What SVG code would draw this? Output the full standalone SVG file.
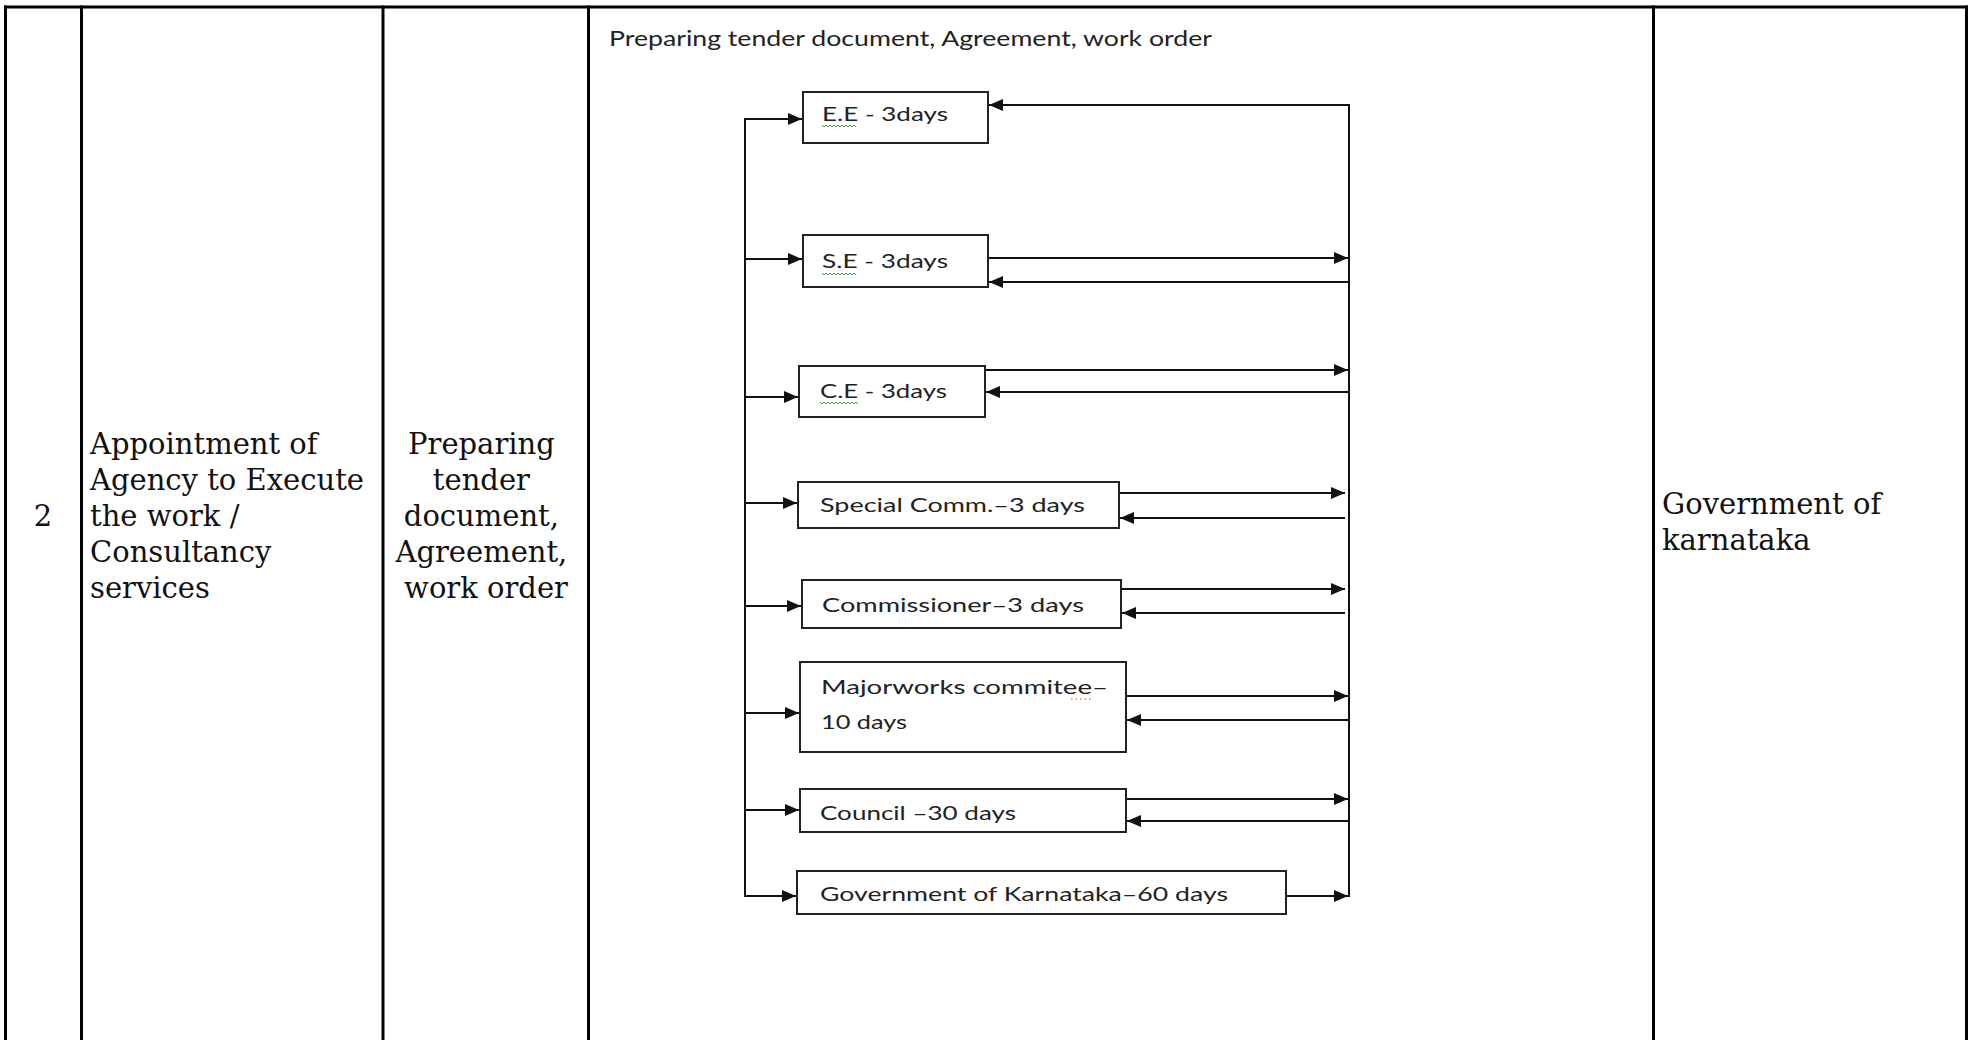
<svg xmlns="http://www.w3.org/2000/svg" width="1970" height="1040" viewBox="0 0 1970 1040">
<style>
.grid{stroke:#000;stroke-width:3;fill:none}
.cell{font-family:"DejaVu Serif","Liberation Serif",serif;font-size:29px;fill:#111}
.box{fill:#fff;stroke:#222;stroke-width:2}
.lbl{font-family:Lato,"Open Sans","Liberation Sans",sans-serif;font-size:20px;fill:#222}
.ttl{font-family:Lato,"Open Sans","Liberation Sans",sans-serif;font-size:21px;fill:#222}
.con{stroke:#111;stroke-width:2;fill:none}
.sq{stroke:#3a9a3a;stroke-width:1;fill:none}
</style>
<defs>
<marker id="ah" markerUnits="userSpaceOnUse" markerWidth="15" markerHeight="12" refX="14" refY="6" orient="auto">
<path d="M0,0 L14,6 L0,12 z" fill="#111"/>
</marker>
</defs>
<rect width="1970" height="1040" fill="#fff"/>
<g id="table">
<line class="grid" x1="4" y1="7" x2="1968" y2="7"/>
<line class="grid" x1="5.5" y1="5.5" x2="5.5" y2="1040"/>
<line class="grid" x1="81.5" y1="5.5" x2="81.5" y2="1040"/>
<line class="grid" x1="383" y1="5.5" x2="383" y2="1040"/>
<line class="grid" x1="588.5" y1="5.5" x2="588.5" y2="1040"/>
<line class="grid" x1="1653.5" y1="5.5" x2="1653.5" y2="1040"/>
<line class="grid" x1="1966.5" y1="5.5" x2="1966.5" y2="1040"/>
<text class="cell" x="43" y="526" text-anchor="middle">2</text>
<text class="cell" x="90">
<tspan x="90" y="454">Appointment of</tspan>
<tspan x="90" y="490">Agency to Execute</tspan>
<tspan x="90" y="526">the work /</tspan>
<tspan x="90" y="562">Consultancy</tspan>
<tspan x="90" y="598">services</tspan>
</text>
<text class="cell" text-anchor="middle">
<tspan x="486" y="454">Preparing</tspan>
<tspan x="486" y="490">tender</tspan>
<tspan x="486" y="526">document,</tspan>
<tspan x="486" y="562">Agreement,</tspan>
<tspan x="486" y="598">work order</tspan>
</text>
<text class="cell">
<tspan x="1662" y="514">Government of</tspan>
<tspan x="1662" y="550">karnataka</tspan>
</text>
</g>
<text class="ttl" x="609" y="46" textLength="603" lengthAdjust="spacingAndGlyphs">Preparing tender document, Agreement, work order</text>
<g id="connectors">
<line class="con" x1="745" y1="119" x2="745" y2="897"/>
<line class="con" x1="1349" y1="104" x2="1349" y2="897"/>
<line class="con" x1="744" y1="119" x2="802" y2="119" marker-end="url(#ah)"/>
<line class="con" x1="745" y1="259" x2="802" y2="259" marker-end="url(#ah)"/>
<line class="con" x1="745" y1="397" x2="798" y2="397" marker-end="url(#ah)"/>
<line class="con" x1="745" y1="503" x2="797" y2="503" marker-end="url(#ah)"/>
<line class="con" x1="745" y1="606" x2="801" y2="606" marker-end="url(#ah)"/>
<line class="con" x1="745" y1="713" x2="799" y2="713" marker-end="url(#ah)"/>
<line class="con" x1="745" y1="810" x2="799" y2="810" marker-end="url(#ah)"/>
<line class="con" x1="744" y1="896" x2="796" y2="896" marker-end="url(#ah)"/>
<line class="con" x1="1350" y1="105" x2="989" y2="105" marker-end="url(#ah)"/>
<line class="con" x1="988" y1="258" x2="1348" y2="258" marker-end="url(#ah)"/>
<line class="con" x1="1349" y1="282" x2="989" y2="282" marker-end="url(#ah)"/>
<line class="con" x1="986" y1="370" x2="1348" y2="370" marker-end="url(#ah)"/>
<line class="con" x1="1349" y1="392" x2="986" y2="392" marker-end="url(#ah)"/>
<line class="con" x1="1119" y1="493" x2="1345" y2="493" marker-end="url(#ah)"/>
<line class="con" x1="1345" y1="518" x2="1120" y2="518" marker-end="url(#ah)"/>
<line class="con" x1="1121" y1="589" x2="1345" y2="589" marker-end="url(#ah)"/>
<line class="con" x1="1345" y1="613" x2="1122" y2="613" marker-end="url(#ah)"/>
<line class="con" x1="1126" y1="696" x2="1348" y2="696" marker-end="url(#ah)"/>
<line class="con" x1="1349" y1="720" x2="1127" y2="720" marker-end="url(#ah)"/>
<line class="con" x1="1126" y1="799" x2="1348" y2="799" marker-end="url(#ah)"/>
<line class="con" x1="1349" y1="821" x2="1127" y2="821" marker-end="url(#ah)"/>
<line class="con" x1="1286" y1="896" x2="1348" y2="896" marker-end="url(#ah)"/>
</g>
<g id="node-ee">
<rect class="box" x="803" y="92" width="185" height="51"/>
<text class="lbl" x="822" y="121" textLength="126" lengthAdjust="spacingAndGlyphs">E.E - 3days</text>
<path class="sq" d="M822,125 l2,2 l2,-2 l2,2 l2,-2 l2,2 l2,-2 l2,2 l2,-2 l2,2 l2,-2 l2,2 l2,-2 l2,2 l2,-2 l2,2 l2,-2 l2,2"/>
</g>
<g id="node-se">
<rect class="box" x="803" y="235" width="185" height="52"/>
<text class="lbl" x="822" y="268" textLength="126" lengthAdjust="spacingAndGlyphs">S.E - 3days</text>
<path class="sq" d="M822,273 l2,2 l2,-2 l2,2 l2,-2 l2,2 l2,-2 l2,2 l2,-2 l2,2 l2,-2 l2,2 l2,-2 l2,2 l2,-2 l2,2 l2,-2 l2,2"/>
</g>
<g id="node-ce">
<rect class="box" x="799" y="366" width="186" height="51"/>
<text class="lbl" x="820" y="398" textLength="127" lengthAdjust="spacingAndGlyphs">C.E - 3days</text>
<path class="sq" d="M820,402 l2,2 l2,-2 l2,2 l2,-2 l2,2 l2,-2 l2,2 l2,-2 l2,2 l2,-2 l2,2 l2,-2 l2,2 l2,-2 l2,2 l2,-2 l2,2 l2,-2 l2,2"/>
</g>
<g id="node-special">
<rect class="box" x="798" y="482" width="321" height="46"/>
<text class="lbl" x="820" y="512" textLength="265" lengthAdjust="spacingAndGlyphs">Special Comm.–3 days</text>
</g>
<g id="node-commissioner">
<rect class="box" x="802" y="580" width="319" height="48"/>
<text class="lbl" x="822" y="612" textLength="262" lengthAdjust="spacingAndGlyphs">Commissioner–3 days</text>
</g>
<g id="node-majorworks">
<rect class="box" x="800" y="662" width="326" height="90"/>
<text class="lbl" x="821" y="694" textLength="287" lengthAdjust="spacingAndGlyphs">Majorworks commitee–</text>
<text class="lbl" x="821" y="729" textLength="86" lengthAdjust="spacingAndGlyphs">10 days</text>
<line x1="1071" y1="699" x2="1091" y2="699" stroke="#d04040" stroke-width="1" stroke-dasharray="1.5,3"/>
</g>
<g id="node-council">
<rect class="box" x="800" y="789" width="326" height="43"/>
<text class="lbl" x="820" y="820" textLength="196" lengthAdjust="spacingAndGlyphs">Council –30 days</text>
</g>
<g id="node-gok">
<rect class="box" x="797" y="871" width="489" height="43"/>
<text class="lbl" x="820" y="901" textLength="408" lengthAdjust="spacingAndGlyphs">Government of Karnataka–60 days</text>
</g>
</svg>
